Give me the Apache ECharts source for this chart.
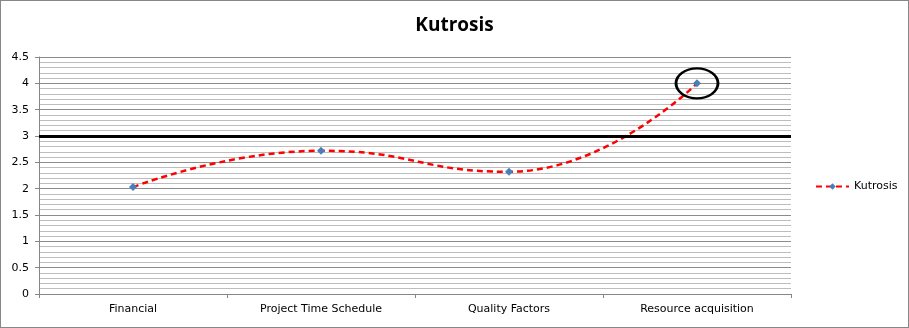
<!DOCTYPE html>
<html>
<head>
<meta charset="utf-8">
<script src="https://cdn.jsdelivr.net/npm/echarts@6/dist/echarts.min.js"></script>
<style>
    html, body { margin: 0; padding: 0; background: #fff; }
    #kurt { width: 909px; height: 328px; box-sizing: border-box; border: 1px solid #878787; }
</style>
</head>
<body>
<div id="kurt"></div>
<script>
    var categories = ['Financial', 'Project Time Schedule', 'Quality Factors', 'Resource acquisition'];
    var kutrosisValues = [2.03, 2.72, 2.32, 4.0];
    var thresholdValue = 3;
    var yTicks = { min: 0, max: 4.5, interval: 0.5 };

    var chart = echarts.init(document.getElementById('kurt'));
    var option = {
        animation: false,
        title: {
            text: 'Kutrosis',
            left: 'center',
            top: 10,
            textStyle: {
                fontFamily: 'Open Sans',
                fontSize: 19,
                fontWeight: 'bold',
                color: '#000'
            }
        },
        legend: {
            orient: 'vertical',
            left: 809,
            top: 175,
            itemWidth: 33,
            itemHeight: 8,
            itemGap: 4,
            textStyle: {
                fontFamily: 'DejaVu Sans',
                fontSize: 11,
                color: '#000'
            },
            data: ['Kutrosis']
        },
        grid: {
            left: 38,
            right: 117,
            top: 56,
            bottom: 33
        },
        xAxis: {
            type: 'category',
            data: categories,
            boundaryGap: true,
            axisLine: { lineStyle: { color: '#868686', width: 1 } },
            axisTick: { show: true, length: 4, lineStyle: { color: '#868686' } },
            axisLabel: {
                fontFamily: 'DejaVu Sans',
                fontSize: 11,
                color: '#000',
                margin: 10
            },
            splitLine: { show: false }
        },
        yAxis: {
            type: 'value',
            min: yTicks.min,
            max: yTicks.max,
            interval: yTicks.interval,
            axisLine: { show: true, lineStyle: { color: '#868686', width: 1 } },
            axisTick: { show: true, length: 4, lineStyle: { color: '#868686' } },
            axisLabel: {
                fontFamily: 'DejaVu Sans',
                fontSize: 11,
                color: '#000',
                margin: 10
            },
            splitLine: { show: true, lineStyle: { color: '#8c8c8c', width: 1 } },
            minorTick: { show: false, splitNumber: 5 },
            minorSplitLine: { show: true, lineStyle: { color: '#bdbdbd', width: 1 } }
        },
        series: [
            {
                name: 'Kutrosis',
                type: 'line',
                data: kutrosisValues,
                smooth: 0.5,
                symbol: 'diamond',
                symbolSize: 8,
                itemStyle: { color: '#4a7ebb' },
                lineStyle: { color: '#ff0000', width: 2.5, type: [6, 4] },
                markLine: {
                    silent: true,
                    symbol: 'none',
                    label: { show: false },
                    lineStyle: { color: '#000', width: 3, type: 'solid' },
                    data: [{ yAxis: thresholdValue }]
                },
                markPoint: {
                    silent: true,
                    symbol: 'circle',
                    symbolSize: [42, 30],
                    label: { show: false },
                    itemStyle: {
                        color: 'transparent',
                        borderColor: '#000',
                        borderWidth: 2.5
                    },
                    data: [{ coord: [categories[3], kutrosisValues[3]] }]
                }
            }
        ]
    };
    chart.setOption(option);
</script>
</body>
</html>
